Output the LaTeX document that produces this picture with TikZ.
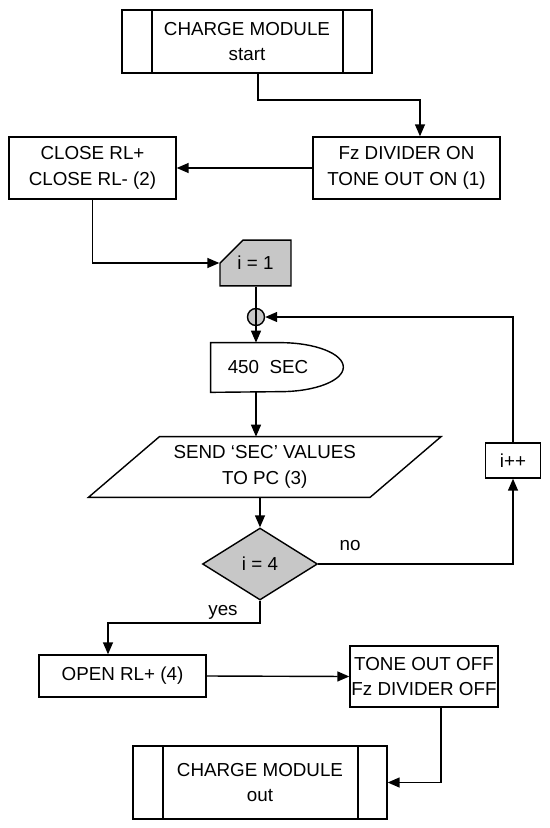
\documentclass[tikz,border=0pt]{standalone}
\usepackage{fontspec}
\setmainfont{Liberation Sans}
\usetikzlibrary{arrows.meta, positioning, calc, shapes.geometric, shapes.misc}
\colorlet{shade}{black!22}
\colorlet{lineclr}{black}

\begin{document}
\begin{tikzpicture}[
    x=0.02cm, y=-0.02cm,
    font=\fontsize{10.7}{14.5}\selectfont,
    >={Triangle[length=0.24cm, width=0.2cm]},
    box/.style={draw=lineclr, line width=0.8pt, align=center, inner sep=0pt},
    module/.style={box,
        path picture={
            \draw[line width=0.8pt]
                ([xshift=0.6cm]path picture bounding box.north west) --
                ([xshift=0.6cm]path picture bounding box.south west);
            \draw[line width=0.8pt]
                ([xshift=-0.58cm]path picture bounding box.north east) --
                ([xshift=-0.58cm]path picture bounding box.south east);
        }},
    init/.style={draw=lineclr, line width=0.8pt, fill=shade,
                 chamfered rectangle, chamfered rectangle corners=north west,
                 chamfered rectangle xsep=0.3cm, chamfered rectangle ysep=0.32cm,
                 minimum width=1.42cm, minimum height=0.88cm, inner sep=0pt},
    joint/.style={circle, draw=lineclr, line width=0.8pt, fill=shade,
                  minimum size=0.34cm, inner sep=0pt,
                  path picture={\draw[line width=0.8pt]
                      (path picture bounding box.north) --
                      (path picture bounding box.south);}},
    decide/.style={diamond, draw=lineclr, line width=0.8pt, fill=shade,
                   minimum width=2.3cm, minimum height=1.44cm, inner sep=0pt},
    plain/.style={inner sep=0pt, align=center},
    outline/.style={draw=lineclr, line width=0.8pt},
    flowarr/.style={->, line width=0.8pt, lineclr},
    flowline/.style={line width=0.8pt, lineclr},
]

\useasboundingbox (0,0) rectangle (550,828);

% ── top: module start, first steps ──
\node[module, minimum width=5cm, minimum height=1.26cm] (start) at (247,41.5)
    {CHARGE MODULE\\start};
\node[box, minimum width=3.74cm, minimum height=1.24cm] (fz) at (406.5,168)
    {Fz DIVIDER ON\\TONE OUT ON (1)};
\node[box, minimum width=3.34cm, minimum height=1.24cm] (close) at (92.5,168)
    {CLOSE RL+\\CLOSE RL- (2)};
\node[init] (init) at (255.5,263) {i = 1};

% ── loop body ──
\node[joint] (join) at (256,317) {};
\node[plain, minimum width=2.64cm, minimum height=0.98cm] (delay) at (277,367.5)
    {450~~SEC\hspace*{0.36cm}};
\draw[outline] (delay.south west) -- (delay.north west)
    -- ([xshift=-1.26cm]delay.north east)
    arc[start angle=90, end angle=-90, x radius=1.26cm, y radius=0.49cm]
    -- cycle;

\node[plain, minimum width=5.62cm, minimum height=1.2cm] (send) at (264.75,467)
    {SEND ‘SEC’ VALUES\\TO PC (3)};
\draw[outline] ([xshift=-0.71cm]send.south west) -- ([xshift=0.71cm]send.north west)
    -- ([xshift=0.71cm]send.north east) -- ([xshift=-0.71cm]send.south east) -- cycle;

\node[decide] (dec) at (260,564) {i = 4};
\node[box, minimum width=1.1cm, minimum height=0.7cm] (incr) at (513,460.5) {i++};

\node[plain] (no) at (350,546) {no};
\node[plain] (yes) at (223,612) {yes};

% ── bottom: switch off, module out ──
\node[box, minimum width=3.34cm, minimum height=0.84cm] (open) at (122.5,676)
    {OPEN RL+ (4)};
\node[box, minimum width=2.96cm, minimum height=1.22cm] (tone) at (424,676.5)
    {TONE OUT OFF\\Fz DIVIDER OFF};
\node[module, minimum width=5.08cm, minimum height=1.46cm] (out) at (260,782.5)
    {CHARGE MODULE\\out};

% ── connectors ──
\coordinate (bend1) at (420,100);
\coordinate (bend2) at (108,623);

\draw[flowarr] ([xshift=0.22cm]start.south) |- (bend1) -- (bend1 |- fz.north);
\draw[flowarr] (fz.west) -- (close.east);
\draw[flowarr] (close.south) |- (init.west);
\draw[flowline] (init.south -| join) -- (join.north);
\draw[flowarr] (join.south) -- (join.south |- delay.north);
\draw[flowarr] (delay.south -| join) -- (join |- send.north);
\draw[flowarr] (send.south -| dec.north) -- (dec.north);
\draw[flowarr] (dec.east) -| (incr.south);
\draw[flowarr] (incr.north) |- (join.east);
\draw[flowarr] (dec.south) |- (bend2) -- (bend2 |- open.north);
\draw[flowarr] (open.east) -- (tone.west);
\draw[flowarr] ([xshift=0.34cm]tone.south) |- (out.east);

\end{tikzpicture}
\end{document}
